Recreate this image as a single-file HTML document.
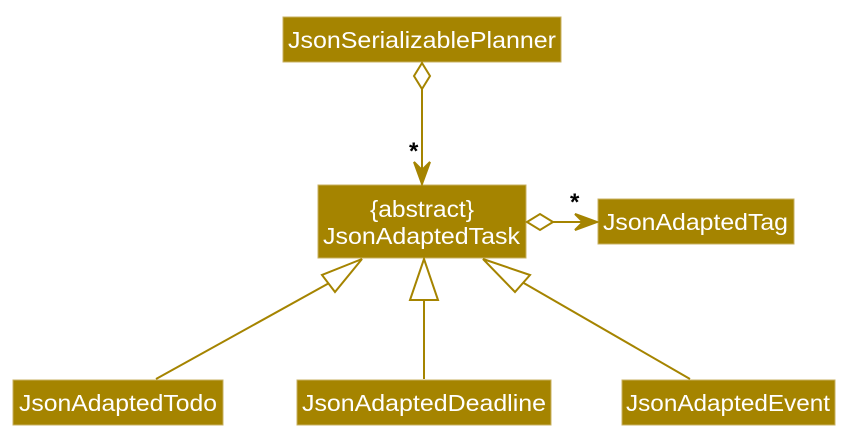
<!DOCTYPE html>
<html><head><style>body{margin:0;background:#fff}svg{display:block}text{font-family:"Liberation Sans",sans-serif;fill:#fff;font-size:23px}</style></head>
<body>
<svg width="856" height="447" viewBox="0 0 856 447" xmlns="http://www.w3.org/2000/svg">
<g fill="#A58400" stroke="#C8B060" stroke-width="1">
<rect x="283" y="17" width="278" height="45"/>
<rect x="318" y="185" width="208" height="73"/>
<rect x="598" y="199" width="196" height="45"/>
<rect x="13" y="380" width="210" height="45"/>
<rect x="297" y="380" width="254" height="45"/>
<rect x="622" y="380" width="213" height="45"/>
</g>
<text x="288" y="48" textLength="268" lengthAdjust="spacingAndGlyphs">JsonSerializablePlanner</text>
<text x="370" y="217" textLength="104" lengthAdjust="spacingAndGlyphs">{abstract}</text>
<text x="323" y="244" textLength="197" lengthAdjust="spacingAndGlyphs">JsonAdaptedTask</text>
<text x="603" y="230" textLength="185" lengthAdjust="spacingAndGlyphs">JsonAdaptedTag</text>
<text x="19" y="411" textLength="198" lengthAdjust="spacingAndGlyphs">JsonAdaptedTodo</text>
<text x="302" y="411" textLength="244" lengthAdjust="spacingAndGlyphs">JsonAdaptedDeadline</text>
<text x="626" y="411" textLength="204" lengthAdjust="spacingAndGlyphs">JsonAdaptedEvent</text>
<g fill="none" stroke="#A58400" stroke-width="2">
<path d="M422 63 L430 76 L422 89 L414 76 Z" fill="#fff"/>
<line x1="422" y1="89" x2="422" y2="184"/>
<path d="M414 162 L422 184 L430 162 L422 170 Z" fill="#A58400"/>
<path d="M527 222 L540 214 L553 222 L540 230 Z" fill="#fff"/>
<line x1="553" y1="222" x2="597" y2="222"/>
<path d="M575 214 L597 222 L575 230 L583 222 Z" fill="#A58400"/>
<line x1="424" y1="300" x2="424" y2="379"/>
<path d="M424 259 L438 300 L410 300 Z" fill="#fff"/>
<line x1="156" y1="379" x2="331" y2="282"/>
<path d="M362 259 L322 275 L335 292 Z" fill="#fff"/>
<line x1="690" y1="379" x2="522" y2="282"/>
<path d="M483 259 L530 275 L515 292 Z" fill="#fff"/>
</g>
<text x="409" y="159" style="fill:#000;font-size:24px;font-weight:bold">*</text>
<text x="570" y="210" style="fill:#000;font-size:24px;font-weight:bold">*</text>
</svg>
</body></html>
